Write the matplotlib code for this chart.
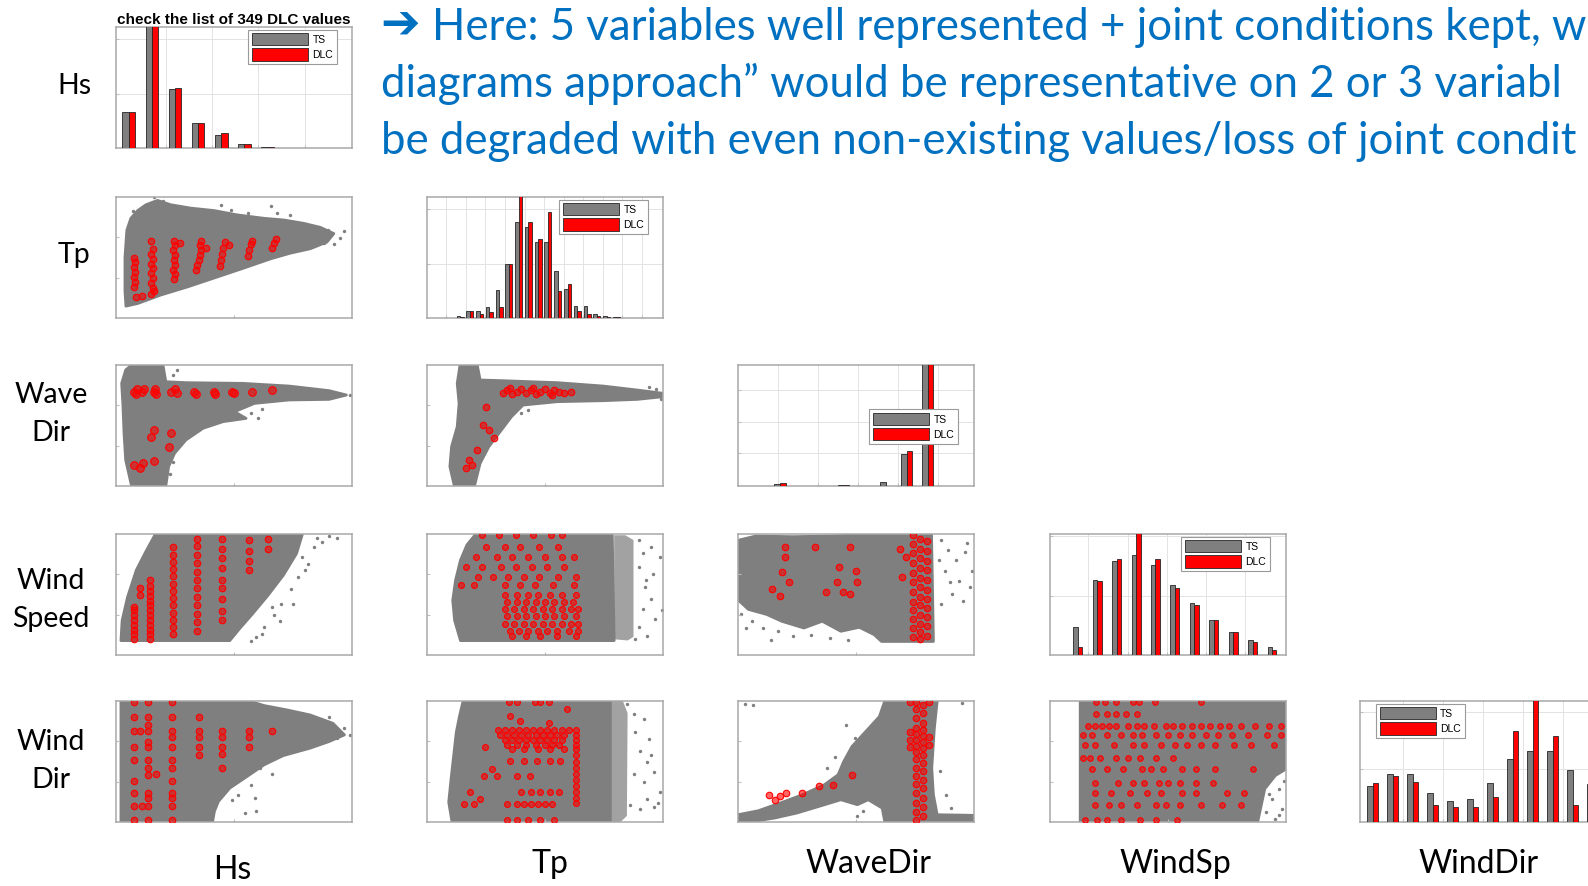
import matplotlib
matplotlib.use("Agg")
import matplotlib.pyplot as plt
import numpy as np

W, H = 1588, 886
GRAY = "#7f7f7f"
LIGHT = "#a2a2a2"
RED = "#ff0000"
EDGE = "#262626"
FRAME = "#a8a8a8"
BLUE = "#0070c0"

# ---- histograms (height as fraction of the axis height) ----
HS_BINS = [1, 2, 3, 4, 5, 6, 7, 8, 9, 10]
HS_TS = [0.30, 1.25, 0.49, 0.21, 0.107, 0.036, 0.010, 0.003, 0.002, 0.002]
HS_DLC = [0.30, 1.30, 0.50, 0.21, 0.12, 0.030, 0.008, 0.003, 0.002, 0.002]

TP_BINS = [1, 2, 3, 4, 5, 6, 7, 8, 9, 10, 11, 12, 13, 14, 15, 16, 17]
TP_TS = [0.02, 0.06, 0.06, 0.09, 0.23, 0.45, 0.79, 0.75, 0.63, 0.63, 0.39, 0.24, 0.10, 0.10, 0.03, 0.02, 0.01]
TP_DLC = [0.01, 0.06, 0.03, 0.05, 0.09, 0.45, 1.05, 0.79, 0.65, 0.88, 0.22, 0.28, 0.06, 0.03, 0.02, 0.01, 0.005]

WAVEDIR_BINS = [2, 5, 7, 8, 9]
WAVEDIR_TS = [0.02, 0.012, 0.03, 0.265, 1.6]
WAVEDIR_DLC = [0.025, 0.01, 0.0, 0.29, 1.6]

WINDSP_BINS = [1, 2, 3, 4, 5, 6, 7, 8, 9, 10, 11]
WINDSP_TS = [0.23, 0.62, 0.78, 0.825, 0.74, 0.575, 0.43, 0.29, 0.19, 0.12, 0.064]
WINDSP_DLC = [0.07, 0.61, 0.79, 1.10, 0.79, 0.55, 0.41, 0.29, 0.19, 0.11, 0.04]

WINDDIR_BINS = [1, 2, 3, 4, 5, 6, 7, 8, 9, 10, 11, 12]
WINDDIR_TS = [0.30, 0.40, 0.40, 0.24, 0.17, 0.19, 0.32, 0.52, 0.59, 0.59, 0.43, 0.31]
WINDDIR_DLC = [0.32, 0.38, 0.33, 0.14, 0.12, 0.12, 0.21, 0.75, 1.05, 0.71, 0.14, 0.22]

# ---- scatter panels, variables scaled to 0..1 over their range ----
# time-series cloud outline, isolated time-series samples, DLC cases
HS_TP_CLOUD = [(0.042, 0.098), (0.038, 0.223), (0.038, 0.503), (0.046, 0.726), (0.063, 0.824),
               (0.092, 0.888), (0.127, 0.936), (0.176, 0.972), (0.232, 0.936), (0.317, 0.908),
               (0.415, 0.888), (0.514, 0.852), (0.627, 0.824), (0.711, 0.810), (0.796, 0.782),
               (0.866, 0.749), (0.923, 0.698), (0.894, 0.628), (0.824, 0.573), (0.739, 0.536),
               (0.655, 0.489), (0.542, 0.413), (0.415, 0.330), (0.303, 0.257), (0.190, 0.190),
               (0.092, 0.120)]
HS_TP_FRINGE = [(0.965, 0.721), (0.923, 0.609), (0.444, 0.936), (0.486, 0.894), (0.655, 0.922),
                (0.134, 0.88), (0.070, 0.888), (0.739, 0.852), (0.683, 0.866), (0.796, 0.670),
                (0.866, 0.698), (0.852, 0.642), (0.56, 0.87), (0.95, 0.66), (0.16, 1.0),
                (0.20, 0.97), (0.90, 0.73), (0.88, 0.62), (0.62, 0.48), (0.50, 0.42)]
HS_TP_DLC = [(0.075, 0.26), (0.08, 0.30), (0.075, 0.34), (0.08, 0.38), (0.075, 0.42), (0.08, 0.46),
             (0.075, 0.50), (0.085, 0.17), (0.11, 0.18), (0.16, 0.22), (0.15, 0.20), (0.155, 0.25),
             (0.15, 0.29), (0.155, 0.33), (0.15, 0.37), (0.155, 0.41), (0.15, 0.45), (0.155, 0.49),
             (0.15, 0.53), (0.155, 0.57), (0.15, 0.64), (0.245, 0.32), (0.25, 0.36), (0.24, 0.40),
             (0.25, 0.44), (0.245, 0.48), (0.25, 0.52), (0.24, 0.56), (0.25, 0.60), (0.245, 0.64),
             (0.27, 0.62), (0.34, 0.40), (0.345, 0.44), (0.35, 0.48), (0.355, 0.52), (0.36, 0.56),
             (0.355, 0.60), (0.36, 0.64), (0.38, 0.58), (0.44, 0.43), (0.445, 0.48), (0.45, 0.53),
             (0.455, 0.58), (0.46, 0.63), (0.48, 0.60), (0.56, 0.51), (0.565, 0.56), (0.57, 0.61),
             (0.575, 0.64), (0.66, 0.58), (0.67, 0.62), (0.68, 0.65)]

HS_WAVEDIR_CLOUD = [(0.066, 0.0), (0.041, 0.215), (0.034, 0.436), (0.029, 0.683), (0.024, 0.848),
                    (0.041, 0.959), (0.066, 1.0), (0.199, 1.0), (0.211, 0.862), (0.296, 0.854),
                    (0.539, 0.848), (0.733, 0.826), (0.903, 0.788), (0.976, 0.752), (0.903, 0.716),
                    (0.733, 0.711), (0.587, 0.683), (0.502, 0.614), (0.551, 0.559), (0.454, 0.532),
                    (0.369, 0.477), (0.296, 0.380), (0.248, 0.270), (0.223, 0.160), (0.211, 0.0)]
HS_WAVEDIR_FRINGE = [(0.99, 0.75), (0.95, 0.76), (0.62, 0.64), (0.57, 0.60), (0.60, 0.56),
                     (0.50, 0.58), (0.42, 0.52), (0.26, 0.96), (0.24, 0.92), (0.23, 0.10), (0.24, 0.20)]
HS_WAVEDIR_DLC = [(0.075, 0.78), (0.085, 0.76), (0.09, 0.80), (0.11, 0.78), (0.12, 0.80),
                  (0.16, 0.78), (0.17, 0.76), (0.165, 0.80), (0.235, 0.78), (0.25, 0.80),
                  (0.26, 0.77), (0.33, 0.78), (0.34, 0.76), (0.415, 0.78), (0.42, 0.76),
                  (0.49, 0.78), (0.50, 0.77), (0.575, 0.78), (0.66, 0.79), (0.163, 0.463),
                  (0.150, 0.402), (0.235, 0.435), (0.223, 0.325), (0.078, 0.174), (0.114, 0.187),
                  (0.163, 0.209), (0.102, 0.146)]

TP_WAVEDIR_CLOUD = [(0.116, 0.0), (0.097, 0.160), (0.104, 0.325), (0.128, 0.490), (0.136, 0.683),
                    (0.128, 0.848), (0.140, 1.0), (0.213, 1.0), (0.225, 0.876), (0.310, 0.871),
                    (0.552, 0.854), (0.746, 0.826), (0.891, 0.793), (1.0, 0.766), (1.0, 0.738),
                    (0.891, 0.716), (0.746, 0.705), (0.552, 0.697), (0.407, 0.669), (0.358, 0.573),
                    (0.310, 0.449), (0.262, 0.325), (0.225, 0.187), (0.201, 0.0)]
TP_WAVEDIR_FRINGE = [(0.97, 0.80), (0.99, 0.72), (0.94, 0.82), (0.43, 0.63), (0.40, 0.60)]
TP_WAVEDIR_DLC = [(0.32, 0.77), (0.34, 0.79), (0.36, 0.76), (0.38, 0.78), (0.40, 0.80), (0.42, 0.77),
                  (0.44, 0.79), (0.46, 0.76), (0.48, 0.78), (0.50, 0.80), (0.52, 0.77), (0.54, 0.79),
                  (0.56, 0.78), (0.58, 0.77), (0.61, 0.78), (0.35, 0.81), (0.45, 0.81), (0.53, 0.75),
                  (0.237, 0.504), (0.262, 0.463), (0.286, 0.394), (0.213, 0.298), (0.177, 0.215),
                  (0.165, 0.146), (0.189, 0.174), (0.249, 0.656)]

HS_WINDSP_CLOUD = [(0.021, 0.119), (0.026, 0.285), (0.049, 0.479), (0.086, 0.701), (0.126, 0.853),
                   (0.167, 1.0), (0.790, 1.0), (0.765, 0.839), (0.709, 0.659), (0.644, 0.493),
                   (0.579, 0.341), (0.523, 0.216), (0.482, 0.119)]
HS_WINDSP_FRINGE = [(0.838, 0.895), (0.814, 0.756), (0.773, 0.645), (0.741, 0.548), (0.701, 0.424),
                    (0.668, 0.327), (0.628, 0.230), (0.903, 0.983), (0.935, 0.964), (0.871, 0.936),
                    (0.749, 0.424), (0.693, 0.285), (0.595, 0.147), (0.571, 0.119), (0.790, 0.812),
                    (0.725, 0.729), (0.85, 0.97), (0.80, 0.70), (0.66, 0.40), (0.62, 0.17)]
HS_WINDSP_DLC = [(0.078, 0.13), (0.078, 0.17), (0.078, 0.21), (0.078, 0.25), (0.078, 0.29),
                 (0.078, 0.33), (0.078, 0.37), (0.078, 0.40), (0.142, 0.13), (0.142, 0.17),
                 (0.142, 0.21), (0.142, 0.25), (0.142, 0.29), (0.142, 0.33), (0.142, 0.37),
                 (0.142, 0.41), (0.142, 0.45), (0.142, 0.49), (0.142, 0.53), (0.142, 0.57),
                 (0.142, 0.62), (0.24, 0.17), (0.24, 0.23), (0.24, 0.29), (0.24, 0.35), (0.24, 0.41),
                 (0.24, 0.47), (0.24, 0.53), (0.24, 0.59), (0.24, 0.65), (0.24, 0.71), (0.24, 0.77),
                 (0.24, 0.83), (0.24, 0.89), (0.345, 0.20), (0.345, 0.27), (0.345, 0.34),
                 (0.345, 0.41), (0.345, 0.48), (0.345, 0.55), (0.345, 0.62), (0.345, 0.69),
                 (0.345, 0.76), (0.345, 0.83), (0.345, 0.90), (0.345, 0.96), (0.45, 0.29),
                 (0.45, 0.36), (0.45, 0.46), (0.45, 0.55), (0.45, 0.62), (0.45, 0.72), (0.45, 0.80),
                 (0.45, 0.88), (0.45, 0.96), (0.563, 0.70), (0.563, 0.78), (0.563, 0.86),
                 (0.563, 0.95), (0.644, 0.88), (0.644, 0.96), (0.10, 0.55), (0.10, 0.50)]

TP_WINDSP_CLOUD = [(0.142, 0.119), (0.117, 0.285), (0.109, 0.452), (0.121, 0.618), (0.142, 0.784),
                   (0.169, 0.909), (0.207, 1.0), (0.785, 1.0), (0.793, 0.119)]
TP_WINDSP_STRIP = [(0.793, 0.13), (0.793, 0.99), (0.84, 0.99), (0.875, 0.95), (0.875, 0.15), (0.85, 0.12)]
TP_WINDSP_FRINGE = [(0.915, 0.839), (0.948, 0.895), (0.989, 0.812), (0.956, 0.673), (0.923, 0.562),
                    (0.948, 0.465), (0.915, 0.382), (0.964, 0.299), (0.899, 0.230), (0.932, 0.161),
                    (0.883, 0.133), (0.997, 0.368), (0.899, 0.729), (0.90, 0.95), (0.93, 0.62)]
TP_WINDSP_DLC = [(0.231, 0.99), (0.305, 0.99), (0.378, 0.99), (0.451, 0.99), (0.524, 0.99), (0.573, 0.99),
                 (0.248, 0.895), (0.329, 0.895), (0.394, 0.895), (0.476, 0.895), (0.557, 0.895),
                 (0.207, 0.81), (0.296, 0.81), (0.362, 0.81), (0.427, 0.81), (0.50, 0.81), (0.573, 0.81),
                 (0.622, 0.81), (0.166, 0.73), (0.231, 0.73), (0.313, 0.73), (0.378, 0.73), (0.443, 0.73),
                 (0.508, 0.73), (0.581, 0.73), (0.215, 0.645), (0.28, 0.645), (0.345, 0.645),
                 (0.41, 0.645), (0.476, 0.645), (0.557, 0.645), (0.63, 0.645), (0.142, 0.576),
                 (0.199, 0.576), (0.329, 0.576), (0.394, 0.576), (0.459, 0.576), (0.533, 0.576),
                 (0.622, 0.576), (0.33, 0.50), (0.38, 0.50), (0.43, 0.50), (0.47, 0.50), (0.52, 0.50),
                 (0.57, 0.50), (0.63, 0.50), (0.34, 0.44), (0.38, 0.44), (0.42, 0.44), (0.46, 0.44),
                 (0.50, 0.44), (0.54, 0.44), (0.58, 0.44), (0.62, 0.44), (0.33, 0.38), (0.37, 0.38),
                 (0.41, 0.38), (0.45, 0.38), (0.49, 0.38), (0.53, 0.38), (0.57, 0.38), (0.61, 0.38),
                 (0.64, 0.38), (0.34, 0.32), (0.38, 0.32), (0.42, 0.32), (0.46, 0.32), (0.50, 0.32),
                 (0.54, 0.32), (0.58, 0.32), (0.63, 0.32), (0.33, 0.26), (0.37, 0.26), (0.41, 0.26),
                 (0.45, 0.26), (0.49, 0.26), (0.53, 0.26), (0.57, 0.26), (0.61, 0.26), (0.64, 0.26),
                 (0.35, 0.20), (0.39, 0.20), (0.43, 0.20), (0.47, 0.20), (0.51, 0.20), (0.55, 0.20),
                 (0.60, 0.20), (0.64, 0.20), (0.36, 0.16), (0.42, 0.16), (0.48, 0.16), (0.55, 0.16),
                 (0.63, 0.16)]

WAVEDIR_WINDSP_CLOUD = [(0.005, 0.950), (0.075, 0.983), (0.232, 0.978), (0.389, 0.983), (0.608, 1.0),
                        (0.820, 1.0), (0.828, 0.112), (0.608, 0.112), (0.577, 0.168), (0.514, 0.229),
                        (0.436, 0.196), (0.357, 0.279), (0.279, 0.223), (0.185, 0.279), (0.122, 0.335),
                        (0.044, 0.377), (0.005, 0.447)]
WAVEDIR_WINDSP_FRINGE = [(0.859, 0.950), (0.890, 0.866), (0.922, 0.782), (0.875, 0.698), (0.937, 0.615),
                         (0.984, 0.559), (0.906, 0.503), (0.859, 0.419), (0.953, 0.447), (0.992, 0.698),
                         (0.969, 0.922), (0.851, 0.782), (0.013, 0.335), (0.060, 0.279), (0.107, 0.223),
                         (0.169, 0.196), (0.232, 0.154), (0.310, 0.168), (0.389, 0.140), (0.467, 0.126),
                         (0.036, 0.223), (0.138, 0.126), (0.90, 0.60), (0.96, 0.85)]
WAVEDIR_WINDSP_DLC = [(0.74, 0.15), (0.74, 0.22), (0.74, 0.30), (0.74, 0.37), (0.74, 0.44), (0.74, 0.52),
                      (0.74, 0.60), (0.74, 0.68), (0.74, 0.76), (0.74, 0.84), (0.74, 0.92), (0.74, 0.99),
                      (0.77, 0.13), (0.77, 0.19), (0.77, 0.26), (0.77, 0.33), (0.77, 0.41), (0.77, 0.48),
                      (0.77, 0.56), (0.77, 0.64), (0.77, 0.72), (0.77, 0.80), (0.77, 0.88), (0.77, 0.96),
                      (0.80, 0.16), (0.80, 0.24), (0.80, 0.31), (0.80, 0.39), (0.80, 0.46), (0.80, 0.54),
                      (0.80, 0.62), (0.80, 0.70), (0.80, 0.78), (0.80, 0.86), (0.80, 0.94),
                      (0.20, 0.894), (0.326, 0.894), (0.475, 0.894), (0.20, 0.81), (0.185, 0.684),
                      (0.216, 0.60), (0.146, 0.545), (0.177, 0.489), (0.373, 0.517), (0.429, 0.726),
                      (0.420, 0.60), (0.498, 0.698), (0.506, 0.60), (0.443, 0.517), (0.475, 0.503),
                      (0.687, 0.88), (0.694, 0.642), (0.710, 0.81)]

HS_WINDDIR_CLOUD = [(0.021, 0.0), (0.021, 1.0), (0.563, 1.0), (0.628, 0.962), (0.725, 0.926),
                    (0.822, 0.885), (0.919, 0.816), (0.968, 0.720), (0.903, 0.665), (0.822, 0.610),
                    (0.709, 0.549), (0.628, 0.473), (0.555, 0.376), (0.482, 0.280), (0.434, 0.170),
                    (0.417, 0.088), (0.409, 0.0)]
HS_WINDDIR_FRINGE = [(0.612, 0.445), (0.571, 0.308), (0.587, 0.198), (0.515, 0.225), (0.490, 0.184),
                     (0.547, 0.074), (0.595, 0.088), (0.709, 0.871), (0.838, 0.857), (0.968, 0.775),
                     (0.935, 0.692), (0.903, 0.871), (0.99, 0.72), (0.66, 0.40)]
HS_WINDDIR_DLC = [(0.078, 0.99), (0.078, 0.87), (0.078, 0.75), (0.078, 0.62), (0.078, 0.51),
                  (0.078, 0.34), (0.078, 0.24), (0.078, 0.13), (0.078, 0.02), (0.134, 0.99),
                  (0.134, 0.87), (0.134, 0.80), (0.134, 0.75), (0.134, 0.66), (0.134, 0.62),
                  (0.134, 0.51), (0.134, 0.45), (0.134, 0.39), (0.134, 0.24), (0.134, 0.20),
                  (0.134, 0.13), (0.134, 0.02), (0.239, 0.99), (0.239, 0.87), (0.239, 0.75),
                  (0.239, 0.70), (0.239, 0.62), (0.239, 0.51), (0.239, 0.45), (0.239, 0.34),
                  (0.239, 0.24), (0.239, 0.20), (0.239, 0.13), (0.239, 0.02), (0.353, 0.87),
                  (0.353, 0.75), (0.353, 0.70), (0.353, 0.62), (0.353, 0.55), (0.45, 0.75),
                  (0.45, 0.70), (0.45, 0.62), (0.45, 0.56), (0.45, 0.45), (0.563, 0.75),
                  (0.563, 0.70), (0.563, 0.62), (0.66, 0.75), (0.17, 0.40), (0.10, 0.75), (0.11, 0.13)]

TP_WINDDIR_CLOUD = [(0.106, 0.0), (0.092, 0.164), (0.102, 0.356), (0.113, 0.548), (0.124, 0.740),
                    (0.138, 0.877), (0.153, 1.0), (0.777, 1.0), (0.777, 0.0)]
TP_WINDDIR_STRIP = [(0.777, 0.0), (0.777, 1.0), (0.83, 1.0), (0.85, 0.9), (0.847, 0.05), (0.82, 0.0)]
TP_WINDDIR_FRINGE = [(0.876, 0.89), (0.918, 0.849), (0.939, 0.685), (0.904, 0.589), (0.932, 0.493),
                     (0.960, 0.411), (0.876, 0.397), (0.918, 0.329), (0.989, 0.247), (0.932, 0.192),
                     (0.862, 0.137), (0.904, 0.110), (0.960, 0.123), (0.883, 0.740), (0.847, 0.973),
                     (0.98, 0.16), (0.95, 0.55)]
TP_WINDDIR_DLC = [(0.346, 0.99), (0.381, 0.99), (0.459, 0.99), (0.48, 0.99), (0.516, 0.99),
                  (0.353, 0.877), (0.395, 0.836), (0.516, 0.822), (0.593, 0.932),
                  (0.30, 0.76), (0.33, 0.76), (0.36, 0.76), (0.39, 0.76), (0.42, 0.76), (0.45, 0.76),
                  (0.48, 0.76), (0.51, 0.76), (0.54, 0.76), (0.57, 0.76), (0.60, 0.76), (0.63, 0.76),
                  (0.31, 0.72), (0.34, 0.72), (0.37, 0.72), (0.40, 0.72), (0.43, 0.72), (0.46, 0.72),
                  (0.49, 0.72), (0.52, 0.72), (0.55, 0.72), (0.58, 0.72), (0.63, 0.72),
                  (0.33, 0.68), (0.36, 0.68), (0.39, 0.68), (0.42, 0.68), (0.45, 0.68), (0.48, 0.68),
                  (0.51, 0.68), (0.54, 0.68), (0.57, 0.68), (0.63, 0.68),
                  (0.34, 0.64), (0.38, 0.64), (0.42, 0.64), (0.46, 0.64), (0.50, 0.64), (0.53, 0.64),
                  (0.56, 0.64), (0.63, 0.64), (0.36, 0.60), (0.41, 0.60), (0.47, 0.60), (0.52, 0.60),
                  (0.58, 0.60), (0.63, 0.60), (0.63, 0.55), (0.63, 0.50), (0.63, 0.45), (0.63, 0.40),
                  (0.63, 0.35), (0.63, 0.30), (0.63, 0.25), (0.63, 0.20), (0.63, 0.16),
                  (0.353, 0.507), (0.41, 0.507), (0.466, 0.507), (0.523, 0.507), (0.565, 0.507),
                  (0.247, 0.616), (0.275, 0.44), (0.24, 0.38), (0.297, 0.38), (0.381, 0.38),
                  (0.438, 0.38), (0.184, 0.25), (0.40, 0.25), (0.44, 0.25), (0.48, 0.25), (0.52, 0.25),
                  (0.56, 0.25), (0.155, 0.15), (0.198, 0.15), (0.339, 0.15), (0.38, 0.15), (0.41, 0.15),
                  (0.44, 0.15), (0.47, 0.15), (0.50, 0.15), (0.53, 0.15), (0.226, 0.19),
                  (0.339, 0.014), (0.38, 0.014), (0.43, 0.014), (0.48, 0.014), (0.54, 0.014)]

WAVEDIR_WINDDIR_CLOUD = [(0.0, 0.0), (0.0, 0.060), (0.086, 0.093), (0.179, 0.157), (0.273, 0.225),
                         (0.366, 0.308), (0.424, 0.390), (0.448, 0.500), (0.483, 0.624), (0.541, 0.747),
                         (0.599, 0.871), (0.622, 1.0), (0.844, 1.0), (0.832, 0.775), (0.821, 0.445),
                         (0.828, 0.225), (0.844, 0.060), (1.0, 0.055), (1.0, 0.0), (0.622, 0.0),
                         (0.611, 0.115), (0.552, 0.184), (0.506, 0.143), (0.436, 0.184), (0.343, 0.129),
                         (0.249, 0.074), (0.156, 0.033), (0.063, 0.005)]
WAVEDIR_WINDDIR_FRINGE = [(0.459, 0.802), (0.494, 0.692), (0.413, 0.541), (0.378, 0.445), (0.529, 0.473),
                          (0.576, 0.363), (0.459, 0.308), (0.063, 0.967), (0.028, 0.973), (0.855, 0.418),
                          (0.883, 0.225), (0.902, 0.115), (0.529, 0.088), (0.506, 0.047), (0.95, 0.98)]
WAVEDIR_WINDDIR_DLC = [(0.755, 0.02), (0.755, 0.08), (0.755, 0.16), (0.755, 0.24), (0.755, 0.31),
                       (0.755, 0.38), (0.755, 0.45), (0.755, 0.52), (0.755, 0.58), (0.755, 0.63),
                       (0.755, 0.68), (0.755, 0.73), (0.755, 0.78), (0.755, 0.86), (0.755, 0.93),
                       (0.755, 0.99), (0.785, 0.05), (0.785, 0.12), (0.785, 0.20), (0.785, 0.28),
                       (0.785, 0.35), (0.785, 0.42), (0.785, 0.49), (0.785, 0.55), (0.785, 0.61),
                       (0.785, 0.66), (0.785, 0.71), (0.785, 0.76), (0.785, 0.82), (0.785, 0.90),
                       (0.785, 0.97), (0.73, 0.62), (0.73, 0.68), (0.73, 0.74), (0.73, 0.99),
                       (0.81, 0.64), (0.81, 0.70), (0.81, 0.99), (0.133, 0.225), (0.179, 0.212),
                       (0.203, 0.239), (0.156, 0.184), (0.273, 0.239), (0.343, 0.294), (0.401, 0.308),
                       (0.483, 0.39)]

WINDSP_WINDDIR_CLOUD = [(0.128, 0.0), (0.128, 1.0), (1.0, 1.0), (1.0, 0.438), (0.955, 0.384),
                        (0.910, 0.274), (0.895, 0.137), (0.880, 0.0)]
WINDSP_WINDDIR_FRINGE = [(0.970, 0.274), (0.940, 0.192), (0.985, 0.110), (0.955, 0.027), (0.917, 0.082),
                         (0.992, 0.342), (0.93, 0.23), (0.97, 0.06)]
WINDSP_WINDDIR_DLC = [(0.195, 0.99), (0.233, 0.99), (0.278, 0.99), (0.353, 0.99), (0.376, 0.99),
                      (0.444, 0.99), (0.639, 0.99), (0.195, 0.89), (0.241, 0.89), (0.278, 0.89),
                      (0.323, 0.89), (0.368, 0.89),
                      (0.16, 0.79), (0.19, 0.79), (0.22, 0.79), (0.25, 0.79), (0.28, 0.79), (0.33, 0.79),
                      (0.37, 0.79), (0.40, 0.79), (0.44, 0.79), (0.49, 0.79), (0.52, 0.79), (0.56, 0.79),
                      (0.60, 0.79), (0.64, 0.79), (0.68, 0.79), (0.72, 0.79), (0.76, 0.79), (0.81, 0.79),
                      (0.87, 0.79), (0.93, 0.79), (0.98, 0.79),
                      (0.14, 0.72), (0.18, 0.72), (0.24, 0.72), (0.30, 0.72), (0.35, 0.72), (0.39, 0.72),
                      (0.45, 0.72), (0.50, 0.72), (0.55, 0.72), (0.60, 0.72), (0.66, 0.72), (0.71, 0.72),
                      (0.77, 0.72), (0.84, 0.72), (0.92, 0.72), (0.98, 0.72),
                      (0.15, 0.64), (0.19, 0.64), (0.27, 0.64), (0.35, 0.64), (0.40, 0.64), (0.47, 0.64),
                      (0.53, 0.64), (0.58, 0.64), (0.64, 0.64), (0.70, 0.64), (0.78, 0.64), (0.85, 0.64),
                      (0.95, 0.64),
                      (0.14, 0.53), (0.17, 0.53), (0.21, 0.53), (0.28, 0.53), (0.33, 0.53), (0.38, 0.53),
                      (0.45, 0.53), (0.52, 0.53),
                      (0.18, 0.44), (0.24, 0.44), (0.31, 0.44), (0.39, 0.44), (0.43, 0.44), (0.48, 0.44),
                      (0.56, 0.44), (0.62, 0.44), (0.70, 0.44), (0.86, 0.44),
                      (0.19, 0.32), (0.29, 0.32), (0.35, 0.32), (0.40, 0.32), (0.46, 0.32), (0.50, 0.32),
                      (0.55, 0.32), (0.62, 0.32), (0.69, 0.32),
                      (0.19, 0.24), (0.26, 0.24), (0.34, 0.24), (0.41, 0.24), (0.47, 0.24), (0.56, 0.24),
                      (0.62, 0.24), (0.75, 0.24), (0.82, 0.24),
                      (0.19, 0.14), (0.25, 0.14), (0.30, 0.14), (0.37, 0.14), (0.45, 0.14), (0.49, 0.14),
                      (0.55, 0.14), (0.64, 0.14), (0.73, 0.14), (0.81, 0.14),
                      (0.15, 0.02), (0.20, 0.02), (0.24, 0.02), (0.30, 0.02), (0.38, 0.02), (0.45, 0.02),
                      (0.54, 0.02)]

ROW_LABELS = ["Hs", "Tp", "Wave\nDir", "Wind\nSpeed", "Wind\nDir"]
COL_LABELS = ["Hs", "Tp", "WaveDir", "WindSp", "WindDir"]
ARROW = "\u2794"
HEADER = ["Here: 5 variables well represented + joint conditions kept, w",
          "diagrams approach\u201d would be representative on 2 or 3 variabl",
          "be degraded with even non-existing values/loss of joint condit"]

COL_LEFT = [116, 427, 738, 1050, 1360]
ROW_TOP = [27, 197, 365, 534, 701]

fig = plt.figure(figsize=(W / 100, H / 100), dpi=100)
fig.patch.set_facecolor("white")


def panel(col, row, w=236, h=121):
    ax = fig.add_axes([COL_LEFT[col] / W, 1 - (ROW_TOP[row] + h) / H, w / W, h / H])
    for s in ax.spines.values():
        s.set_color(FRAME)
        s.set_linewidth(1.1)
    ax.tick_params(direction="in", length=2.5, color="#c0c0c0",
                   labelbottom=False, labelleft=False)
    return ax


def scatter_panel(col, row, cloud, fringe, dlc, strip=None, size=22):
    ax = panel(col, row)
    ax.set_xlim(0, 1)
    ax.set_ylim(0, 1)
    ax.set_xticks([0.5])
    ax.set_yticks([0.33, 0.67])
    if strip is not None:
        sx, sy = zip(*strip)
        ax.fill(sx, sy, color=LIGHT, lw=0)
    cx, cy = zip(*cloud)
    ax.fill(cx, cy, facecolor=GRAY, edgecolor=GRAY, lw=2.0, joinstyle="round")
    fx, fy = zip(*fringe)
    ax.scatter(fx, fy, s=6, color=GRAY, lw=0)
    dx, dy = zip(*dlc)
    ax.scatter(dx, dy, s=size, facecolor=(1, 0, 0, 0.6), edgecolor=RED, lw=0.8, zorder=4)
    return ax


def hist_panel(col, row, bins, ts, dlc, width, xlim, xgrid, ygrid, loc, anchor):
    ax = panel(col, row)
    x = np.asarray(bins, dtype=float)
    ax.bar(x - width / 2, ts, width, color=GRAY, edgecolor=EDGE, lw=0.6, label="TS", zorder=3)
    ax.bar(x + width / 2, dlc, width, color=RED, edgecolor=EDGE, lw=0.6, label="DLC", zorder=3)
    ax.set_xlim(*xlim)
    ax.set_ylim(0, 1)
    ax.set_xticks(xgrid)
    ax.set_yticks(ygrid)
    ax.grid(True, color="#e3e3e3", lw=0.7, zorder=0)
    leg = ax.legend(loc=loc, bbox_to_anchor=anchor, handlelength=5.4, handleheight=1.4,
                    handletextpad=0.4, labelspacing=0.3, borderpad=0.35, borderaxespad=0.2,
                    fancybox=False, framealpha=1, edgecolor="#9a9a9a",
                    prop={"family": "Liberation Sans", "size": 7.5})
    leg.get_frame().set_linewidth(0.8)
    return ax


# diagonal: marginal histograms
ax = hist_panel(0, 0, HS_BINS, HS_TS, HS_DLC, 0.27, (0.45, 10.65), [2.6, 4.6, 6.6, 8.6],
                [0.45, 0.9], "upper right", (0.945, 0.995))
ax.set_title("check the list of 349 DLC values", fontsize=11, fontweight="bold",
             family="Liberation Sans", pad=2.5)
hist_panel(1, 1, TP_BINS, TP_TS, TP_DLC, 0.36, (-2.38, 21.77),
           [-0.4, 1.6, 3.6, 5.6, 7.6, 9.6, 11.6, 13.6, 15.6, 17.6, 19.6],
           [0.45, 0.9], "upper right", (0.945, 0.995))
hist_panel(2, 2, WAVEDIR_BINS, WAVEDIR_TS, WAVEDIR_DLC, 0.27, (0, 11.2),
           [1.9, 3.8, 5.7, 7.6, 9.5], [0.27, 0.53, 0.79], "upper right", (0.94, 0.65))
hist_panel(3, 3, WINDSP_BINS, WINDSP_TS, WINDSP_DLC, 0.23, (-0.43, 11.72),
           [1.53, 3.6, 5.6, 7.6, 9.6], [0.49, 0.98], "upper right", (0.94, 0.995))
hist_panel(4, 4, WINDDIR_BINS, WINDDIR_TS, WINDDIR_DLC, 0.27, (0.37, 12.17),
           [2.5, 4.5, 6.5, 8.5, 10.5], [0.44, 0.91], "upper left", (0.06, 0.995))

# lower triangle: time series cloud with DLC cases on top
scatter_panel(0, 1, HS_TP_CLOUD, HS_TP_FRINGE, HS_TP_DLC)
scatter_panel(0, 2, HS_WAVEDIR_CLOUD, HS_WAVEDIR_FRINGE, HS_WAVEDIR_DLC, size=30)
scatter_panel(1, 2, TP_WAVEDIR_CLOUD, TP_WAVEDIR_FRINGE, TP_WAVEDIR_DLC)
scatter_panel(0, 3, HS_WINDSP_CLOUD, HS_WINDSP_FRINGE, HS_WINDSP_DLC)
scatter_panel(1, 3, TP_WINDSP_CLOUD, TP_WINDSP_FRINGE, TP_WINDSP_DLC, strip=TP_WINDSP_STRIP, size=18)
scatter_panel(2, 3, WAVEDIR_WINDSP_CLOUD, WAVEDIR_WINDSP_FRINGE, WAVEDIR_WINDSP_DLC)
scatter_panel(0, 4, HS_WINDDIR_CLOUD, HS_WINDDIR_FRINGE, HS_WINDDIR_DLC)
scatter_panel(1, 4, TP_WINDDIR_CLOUD, TP_WINDDIR_FRINGE, TP_WINDDIR_DLC, strip=TP_WINDDIR_STRIP, size=18)
scatter_panel(2, 4, WAVEDIR_WINDDIR_CLOUD, WAVEDIR_WINDDIR_FRINGE, WAVEDIR_WINDDIR_DLC)
scatter_panel(3, 4, WINDSP_WINDDIR_CLOUD, WINDSP_WINDDIR_FRINGE, WINDSP_WINDDIR_DLC, size=16)

# row and column names
row_y = [86, 255, 414, 600, 761]
for lab, y in zip(ROW_LABELS, row_y):
    fig.text(51 / W if "\n" in lab else 74 / W, 1 - y / H, lab, ha="center", va="center",
             fontsize=20.5, family="Lato", linespacing=1.55)
col_x = [232, 550, 869, 1175, 1479]
col_y = [870, 864, 864, 864, 864]
for lab, x, y in zip(COL_LABELS, col_x, col_y):
    fig.text(x / W, 1 - y / H, lab, ha="center", va="center", fontsize=23, family="Lato")

# slide text
fig.text(380 / W, 1 - 26 / H, ARROW, ha="left", va="center", fontsize=34, color=BLUE,
         family="DejaVu Sans", fontweight="bold")
header_y = [27, 84, 141]
header_x = [432, 381, 381]
for line, x, y in zip(HEADER, header_x, header_y):
    fig.text(x / W, 1 - y / H, line, ha="left", va="center", fontsize=31.5,
             color=BLUE, family="Lato")

fig.savefig("out.png", dpi=100, facecolor="white")
